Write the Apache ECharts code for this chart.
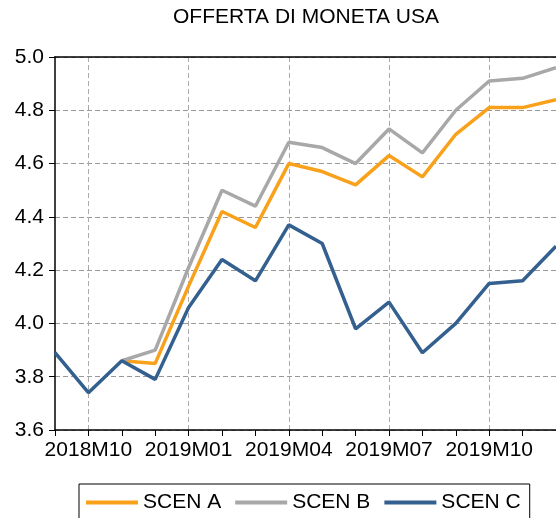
<!DOCTYPE html>
<html>
<head>
<meta charset="utf-8">
<script src="https://cdn.jsdelivr.net/npm/echarts@6/dist/echarts.min.js"></script>
<style>
  html, body { margin: 0; padding: 0; background: #fff; }
  #chart { width: 556px; height: 518px; }
</style>
</head>
<body>
<div id="chart"></div>
<script>
var months = ['2018M09', '2018M10', '2018M11', '2018M12',
  '2019M01', '2019M02', '2019M03', '2019M04', '2019M05', '2019M06',
  '2019M07', '2019M08', '2019M09', '2019M10', '2019M11', '2019M12'];

var scenA = [null, null, 3.86, 3.85, 4.14, 4.42, 4.36, 4.60, 4.57, 4.52, 4.63, 4.55, 4.71, 4.81, 4.81, 4.84];
var scenB = [null, null, 3.86, 3.90, 4.21, 4.50, 4.44, 4.68, 4.66, 4.60, 4.73, 4.64, 4.80, 4.91, 4.92, 4.96];
var scenC = [3.89, 3.74, 3.86, 3.79, 4.06, 4.24, 4.16, 4.37, 4.30, 3.98, 4.08, 3.89, 4.00, 4.15, 4.16, 4.29];

var font = 'Liberation Sans, Arial, sans-serif';
var fs = 21;

// labels and vertical grid every quarter, starting at 2018M10
function quarterly(idx) { return idx % 3 === 1; }

var chart = echarts.init(document.getElementById('chart'));

function line(name, data, color) {
    return {
        name: name,
        type: 'line',
        data: data,
        symbol: 'none',
        lineStyle: { width: 3.5, color: color },
        itemStyle: { color: color },
        z: name === 'SCEN C' ? 3 : 2
    };
}

chart.setOption({
    animation: false,
    backgroundColor: '#fff',
    title: {
        text: 'OFFERTA DI MONETA USA',
        left: 173,
        top: 7,
        padding: 0,
        textStyle: { fontFamily: font, fontSize: fs, fontWeight: 'normal', color: '#000' }
    },
    grid: { left: 55, top: 57, right: 0, bottom: 88 },
    legend: {
        left: 79,
        top: 484,
        padding: [8, 9, 20, 7],
        borderColor: '#000',
        borderWidth: 1,
        itemWidth: 52,
        itemHeight: 4,
        itemGap: 14,
        icon: 'rect',
        textStyle: { fontFamily: font, fontSize: fs, color: '#000' },
        data: ['SCEN A', 'SCEN B', 'SCEN C']
    },
    xAxis: [{
        type: 'category',
        data: months,
        boundaryGap: false,
        axisLine: { lineStyle: { color: '#000', width: 1.5 } },
        axisTick: { show: true, interval: 0, length: 6, lineStyle: { color: '#000' } },
        axisLabel: {
            interval: quarterly,
            margin: 10,
            color: '#000',
            fontFamily: font,
            fontSize: fs
        },
        splitLine: {
            show: true,
            interval: quarterly,
            lineStyle: { color: '#aaa', type: [5, 3], width: 1 }
        }
    }, {
        type: 'category',
        data: months,
        position: 'top',
        boundaryGap: false,
        axisLine: { lineStyle: { color: '#000', width: 1.5 } },
        axisTick: { show: false },
        axisLabel: { show: false },
        splitLine: { show: false }
    }],
    yAxis: {
        type: 'value',
        min: 3.6,
        max: 5.0,
        interval: 0.2,
        axisLine: { show: true, lineStyle: { color: '#000', width: 1.5 } },
        axisTick: { show: true, length: 6, lineStyle: { color: '#000' } },
        axisLabel: {
            margin: 11,
            color: '#000',
            fontFamily: font,
            fontSize: fs,
            formatter: function (v) { return v.toFixed(1); }
        },
        splitLine: {
            show: true,
            lineStyle: { color: '#999', type: [5, 3], width: 1 }
        }
    },
    series: [
        line('SCEN A', scenA, '#F9A11B'),
        line('SCEN B', scenB, '#A8A8A8'),
        line('SCEN C', scenC, '#34608F')
    ]
});
</script>
</body>
</html>
